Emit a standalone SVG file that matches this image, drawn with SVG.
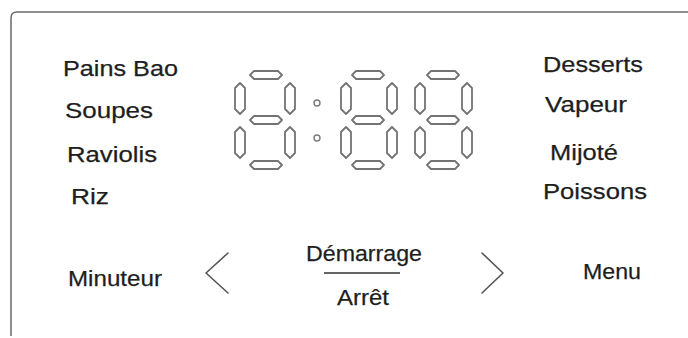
<svg xmlns="http://www.w3.org/2000/svg" width="688" height="338" viewBox="0 0 688 338">
  <style>
    .frame { fill: none; stroke: #6a6a6a; stroke-width: 1.5; }
    .seg { fill: #ffffff; stroke: #737373; stroke-width: 1.8; stroke-linejoin: round; }
    .dot { fill: #ffffff; stroke: #7a7a7a; stroke-width: 1.4; }
    .lbl { font-family: "Liberation Sans", Arial, sans-serif; font-size: 22.5px; fill: #1e1e1e; stroke: #1e1e1e; stroke-width: 0.25; }
    .chev { fill: none; stroke: #555555; stroke-width: 1.6; stroke-linecap: round; stroke-linejoin: round; }
    .rule { stroke: #333333; stroke-width: 1.5; }
  </style>
  <defs>
    <!-- horizontal and vertical seven-segment bars -->
    <polygon id="segH" class="seg" points="0,4 4,0 28,0 32,4 28,8 4,8"/>
    <polygon id="segV" class="seg" points="5,0 10,5 10,26 5,31 0,26 0,5"/>
  </defs>

  <!-- panel outline -->
  <path class="frame" d="M11,336 L11,18 Q11,12 17,12 L688,12"/>

  <!-- clock display -->
  <g id="display">
    <g id="digit1">
      <use href="#segH" x="250" y="71"/>
      <use href="#segV" x="235" y="83"/>
      <use href="#segV" x="285" y="83"/>
      <use href="#segH" x="250" y="116"/>
      <use href="#segV" x="235" y="127"/>
      <use href="#segV" x="285" y="127"/>
      <use href="#segH" x="250" y="161"/>
    </g>
    <g id="colon">
      <circle class="dot" cx="317" cy="103" r="3"/>
      <circle class="dot" cx="317" cy="138" r="3"/>
    </g>
    <g id="digit2">
      <use href="#segH" x="352" y="71"/>
      <use href="#segV" x="341" y="83"/>
      <use href="#segV" x="387" y="83"/>
      <use href="#segH" x="352" y="116"/>
      <use href="#segV" x="341" y="127"/>
      <use href="#segV" x="387" y="127"/>
      <use href="#segH" x="352" y="161"/>
    </g>
    <g id="digit3">
      <use href="#segH" x="427" y="71"/>
      <use href="#segV" x="415" y="83"/>
      <use href="#segV" x="462" y="83"/>
      <use href="#segH" x="427" y="116"/>
      <use href="#segV" x="415" y="127"/>
      <use href="#segV" x="462" y="127"/>
      <use href="#segH" x="427" y="161"/>
    </g>
  </g>

  <!-- programme labels, left column -->
  <g id="left-menu">
    <text class="lbl" x="63" y="76" textLength="115" lengthAdjust="spacingAndGlyphs">Pains Bao</text>
    <text class="lbl" x="65" y="118" textLength="88" lengthAdjust="spacingAndGlyphs">Soupes</text>
    <text class="lbl" x="67" y="162" textLength="90" lengthAdjust="spacingAndGlyphs">Raviolis</text>
    <text class="lbl" x="71" y="204" textLength="38" lengthAdjust="spacingAndGlyphs">Riz</text>
  </g>

  <!-- programme labels, right column -->
  <g id="right-menu">
    <text class="lbl" x="543" y="72" textLength="100" lengthAdjust="spacingAndGlyphs">Desserts</text>
    <text class="lbl" x="545" y="112" textLength="82" lengthAdjust="spacingAndGlyphs">Vapeur</text>
    <text class="lbl" x="550" y="160" textLength="68" lengthAdjust="spacingAndGlyphs">Mijoté</text>
    <text class="lbl" x="543" y="199" textLength="104" lengthAdjust="spacingAndGlyphs">Poissons</text>
  </g>

  <!-- control row -->
  <g id="controls">
    <text class="lbl" x="68" y="286" textLength="94" lengthAdjust="spacingAndGlyphs">Minuteur</text>
    <polyline class="chev" points="228,253 206,273 228,293"/>
    <text class="lbl" x="306" y="261" textLength="116" lengthAdjust="spacingAndGlyphs">Démarrage</text>
    <line class="rule" x1="324" y1="273" x2="400" y2="273"/>
    <text class="lbl" x="337" y="305" textLength="52" lengthAdjust="spacingAndGlyphs">Arrêt</text>
    <polyline class="chev" points="482,253 503,273 482,293"/>
    <text class="lbl" x="583" y="279" textLength="58" lengthAdjust="spacingAndGlyphs">Menu</text>
  </g>
</svg>
